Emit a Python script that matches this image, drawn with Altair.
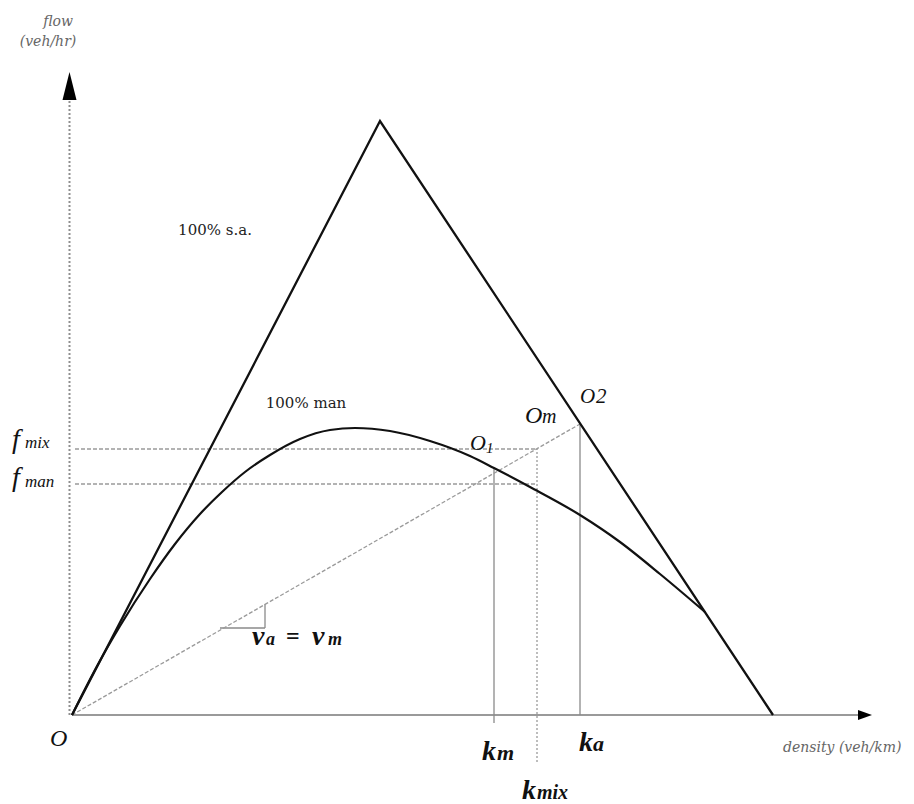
import altair as alt
import pandas as pd

# Coordinates: density k to the right, flow q upward, origin O at (0, 0)
K_DOMAIN = [-72, 842]
Q_DOMAIN = [-89, 715]

# 100% s.a. : triangular flow-density diagram
sa_k = [0, 308, 701]
sa_q = [0, 594, 0]

# 100% man : concave flow-density curve, meeting the s.a. branch near jam density
man_k = [0, 24, 48, 78, 103, 128, 150, 173, 198, 228, 258, 283, 318, 358, 398, 422, 458, 508, 548, 588, 633]
man_q = [0, 47, 89, 136, 171, 201, 223, 243, 260, 276, 285, 287, 284, 274, 259, 247, 228, 200, 173, 141, 103]

# Operating points O1, Om, O2 on the common speed line v_a = v_m
k_m, q_o1 = 422, 247
k_mix, f_mix = 465, 266
k_a, q_o2 = 508, 291
f_man = 231

# Guide segments: start/end in (k, q) and line style
seg_k1 = [k_m, k_a, 148, 193, 0, 3, 3, k_mix]
seg_q1 = [-8, 0, 87, 87, 0, f_mix, f_man, -47]
seg_k2 = [k_m, k_a, 193, 193, k_a, k_mix, k_mix, k_mix]
seg_q2 = [q_o1, q_o2, 87, 111, q_o2, f_mix, f_man, f_mix]
seg_style = ["solid", "solid", "solid", "solid", "dashed", "dashed", "dashed", "dotted"]

# Axes (arrow shafts) and arrow heads
axis_k1 = [0, -2.5]
axis_q1 = [0, 0]
axis_k2 = [786, -2.5]
axis_q2 = [0, 615]
head_k = [793, -2.5]
head_q = [0, 629]
head_shape = ["M1,0L-1,-0.71L-1,0.71Z", "M0,-1L0.5,1L-0.5,1Z"]
head_size = [196, 784]

# Plain annotations
note_text = ["flow", "(veh/hr)", "100% s.a.", "100% man", "density (veh/km)"]
note_k = [-14, -24, 143, 234, 711]
note_q = [689, 669, 480, 307, -37]
note_size = [14, 14, 15, 15, 14]
note_italic = [True, True, False, False, True]
note_align = ["center", "center", "center", "center", "left"]
note_color = ["#666666", "#666666", "#222222", "#222222", "#666666"]

# Italic symbols (left edge, baseline)
sym_text = ["f", "mix", "f", "man", "O", "1", "O", "m", "O", "2", "O"]
sym_k = [-60, -47, -60, -47, 398, 414, 453, 470, 508, 524, -22]
sym_q = [267, 267, 229, 228, 265, 262, 292, 292, 312, 312, -31]
sym_size = [28, 17, 28, 17, 22, 15, 24, 20, 21, 21, 24]

# Bold italic symbols (left edge, baseline)
bsym_text = ["k", "m", "k", "a", "k", "mix", "v", "a", "v", "m"]
bsym_k = [410, 425, 507, 521, 450, 465, 180, 194, 240, 256]
bsym_q = [-45, -45, -36, -36, -84, -84, 70, 70, 70, 70]
bsym_size = [28, 22, 28, 22, 28, 20, 28, 18, 28, 18]

eq_text = ["="]
eq_k = [214]
eq_q = [71]
eq_size = [24]

XS = alt.Scale(domain=K_DOMAIN, nice=False, zero=False)
YS = alt.Scale(domain=Q_DOMAIN, nice=False, zero=False)


def xq(field):
    return alt.X(f"{field}:Q", scale=XS, axis=None)


def yq(field):
    return alt.Y(f"{field}:Q", scale=YS, axis=None)


sa_df = pd.DataFrame({"k": sa_k, "q": sa_q, "i": range(len(sa_k))})
man_df = pd.DataFrame({"k": man_k, "q": man_q, "i": range(len(man_k))})
seg_df = pd.DataFrame({"k": seg_k1, "q": seg_q1, "k2": seg_k2, "q2": seg_q2, "style": seg_style})
axis_df = pd.DataFrame({"k": axis_k1, "q": axis_q1, "k2": axis_k2, "q2": axis_q2, "name": ["x", "y"]})

layers = []

# axis shafts
layers.append(
    alt.Chart(axis_df[axis_df.name == "x"]).mark_rule(color="#9a9a9a", strokeWidth=2)
    .encode(x=xq("k"), y=yq("q"), x2="k2:Q", y2="q2:Q")
)
layers.append(
    alt.Chart(axis_df[axis_df.name == "y"]).mark_rule(color="#8f8f8f", strokeWidth=2, strokeDash=[2, 2])
    .encode(x=xq("k"), y=yq("q"), x2="k2:Q", y2="q2:Q")
)

# guide segments by style
dash_map = {"solid": None, "dashed": [4, 2], "dotted": [2, 2]}
color_map = {"solid": "#8a8a8a", "dashed": "#9a9a9a", "dotted": "#9a9a9a"}
for st in ["solid", "dashed", "dotted"]:
    kw = dict(color=color_map[st], strokeWidth=1.3)
    if dash_map[st] is not None:
        kw["strokeDash"] = dash_map[st]
    layers.append(
        alt.Chart(seg_df[seg_df["style"] == st]).mark_rule(**kw)
        .encode(x=xq("k"), y=yq("q"), x2="k2:Q", y2="q2:Q")
    )

# main diagrams
layers.append(
    alt.Chart(sa_df).mark_line(color="#111111", strokeWidth=2.3)
    .encode(x=xq("k"), y=yq("q"), order="i:Q")
)
layers.append(
    alt.Chart(man_df).mark_line(color="#111111", strokeWidth=2.2, interpolate="monotone")
    .encode(x=xq("k"), y=yq("q"), order="i:Q")
)

# arrow heads
for hk, hq, shp, sz in zip(head_k, head_q, head_shape, head_size):
    layers.append(
        alt.Chart(pd.DataFrame({"k": [hk], "q": [hq]}))
        .mark_point(shape=shp, size=sz, filled=True, color="#000000", opacity=1, strokeWidth=0)
        .encode(x=xq("k"), y=yq("q"))
    )

# annotations
note_df = pd.DataFrame({"text": note_text, "k": note_k, "q": note_q, "size": note_size,
                        "italic": note_italic, "align": note_align, "color": note_color})
for it in [True, False]:
    for al in ["center", "left"]:
        sub = note_df[(note_df.italic == it) & (note_df["align"] == al)]
        if sub.empty:
            continue
        kw = dict(font="DejaVu Serif", baseline="alphabetic", align=al)
        if it:
            kw["fontStyle"] = "italic"
        layers.append(
            alt.Chart(sub).mark_text(**kw).encode(
                x=xq("k"), y=yq("q"), text="text:N",
                size=alt.Size("size:Q", scale=None, legend=None),
                color=alt.Color("color:N", scale=None, legend=None),
            )
        )

sym_df = pd.DataFrame({"text": sym_text, "k": sym_k, "q": sym_q, "size": sym_size})
layers.append(
    alt.Chart(sym_df).mark_text(font="Liberation Serif", fontStyle="italic", baseline="alphabetic",
                                align="left", color="#111111")
    .encode(x=xq("k"), y=yq("q"), text="text:N", size=alt.Size("size:Q", scale=None, legend=None))
)

bsym_df = pd.DataFrame({"text": bsym_text, "k": bsym_k, "q": bsym_q, "size": bsym_size})
layers.append(
    alt.Chart(bsym_df).mark_text(font="Liberation Serif", fontStyle="italic", fontWeight="bold",
                                 baseline="alphabetic", align="left", color="#111111")
    .encode(x=xq("k"), y=yq("q"), text="text:N", size=alt.Size("size:Q", scale=None, legend=None))
)

eq_df = pd.DataFrame({"text": eq_text, "k": eq_k, "q": eq_q, "size": eq_size})
layers.append(
    alt.Chart(eq_df).mark_text(font="Liberation Serif", fontWeight="bold", baseline="alphabetic",
                               align="left", color="#111111")
    .encode(x=xq("k"), y=yq("q"), text="text:N", size=alt.Size("size:Q", scale=None, legend=None))
)

chart = (
    alt.layer(*layers)
    .properties(width=914, height=804, padding=0, autosize=alt.AutoSizeParams(type="none"),
                background="white")
    .configure_view(stroke=None)
)

chart.save("out.html", embed_options={"renderer": "svg", "actions": False})
